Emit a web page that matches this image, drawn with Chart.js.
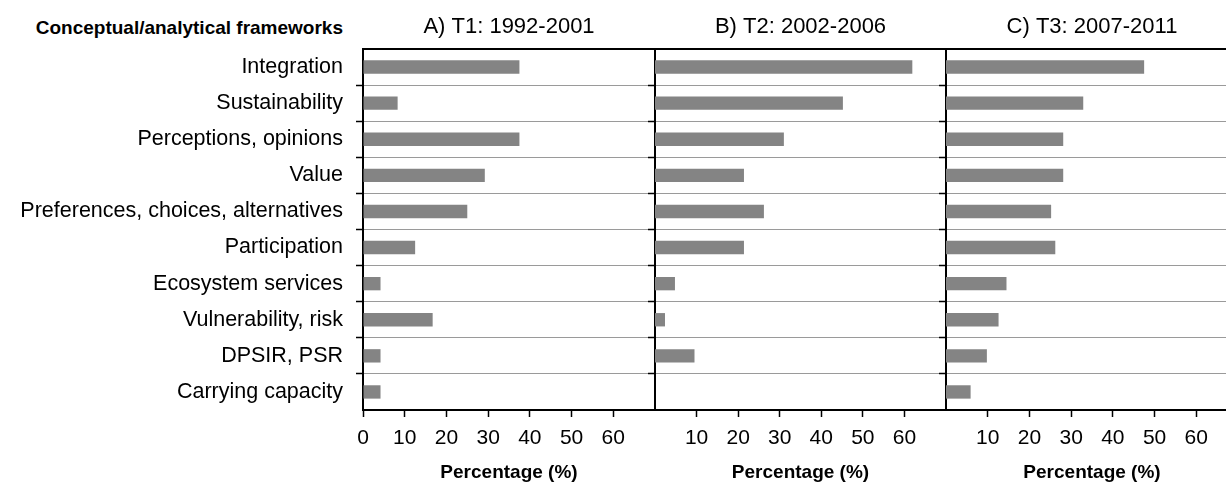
<!DOCTYPE html>
<html>
<head>
<meta charset="utf-8">
<script src="https://cdn.jsdelivr.net/npm/chart.js@4/dist/chart.umd.min.js"></script>
<style>
  html, body { margin: 0; padding: 0; background: #fff; overflow: hidden; }
  #wrap { position: relative; width: 1226px; height: 482px; overflow: hidden; }
  #wrap canvas { position: absolute; left: 0; top: 0; }
  #rowHead { position: absolute; right: 883px; top: 18px; font: bold 19px 'Liberation Sans', Arial, sans-serif; line-height: 20px; color: #000; white-space: nowrap; }
</style>
</head>
<body>
<div id="wrap">
  <div id="rowHead">Conceptual/analytical frameworks</div>
  <canvas id="panelA" width="1240" height="482"></canvas>
  <canvas id="panelB" width="1240" height="482"></canvas>
  <canvas id="panelC" width="1240" height="482"></canvas>
</div>
<script>
var categories = ['Integration', 'Sustainability', 'Perceptions, opinions', 'Value', 'Preferences, choices, alternatives', 'Participation', 'Ecosystem services', 'Vulnerability, risk', 'DPSIR, PSR', 'Carrying capacity'];
var panelTitles = ['A) T1: 1992-2001', 'B) T2: 2002-2006', 'C) T3: 2007-2011'];
var t1 = [37.5, 8.3, 37.5, 29.2, 25.0, 12.5, 4.2, 16.7, 4.2, 4.2];
var t2 = [61.9, 45.2, 31.0, 21.4, 26.2, 21.4, 4.8, 2.4, 9.5, 0];
var t3 = [47.5, 32.9, 28.1, 28.1, 25.2, 26.2, 14.5, 12.6, 9.8, 5.9];
var ticksFirst = [0, 10, 20, 30, 40, 50, 60];
var ticksOther = [10, 20, 30, 40, 50, 60];
var xMax = 70;
var xTitle = 'Percentage (%)';

var FONT = "'Liberation Sans', Arial, sans-serif";
Chart.defaults.font.family = FONT;
Chart.defaults.color = '#000';

function panel(id, title, values, xTicks, opt){
  return new Chart(document.getElementById(id), {
    type: 'bar',
    data: {
      labels: categories,
      datasets: [{ data: values, backgroundColor: '#848484', borderWidth: 0, barPercentage: 0.37, categoryPercentage: 1 }]
    },
    options: {
      responsive: false,
      animation: false,
      indexAxis: 'y',
      layout: { padding: { left: opt.padLeft, right: opt.padRight, top: 0, bottom: 0 } },
      plugins: {
        legend: { display: false },
        tooltip: { enabled: false },
        title: { display: true, text: title, fullSize: false, color: '#000', font: { size: 22, weight: 'normal' }, padding: { top: 13.8, bottom: 8.8 } }
      },
      scales: {
        y: {
          afterFit: function(s){ s.width = opt.yWidth; },
          grid: {
            offset: true,
            color: function(ctx){ return ctx.index === 0 ? '#000' : '#9a9a9a'; },
            lineWidth: function(ctx){ return ctx.index === 0 ? 2 : 1; },
            tickColor: function(ctx){ return (ctx.index === undefined || ctx.index === 0) ? 'rgba(0,0,0,0)' : '#000'; },
            tickLength: 7,
            tickWidth: 1.5
          },
          border: { color: '#000', width: 2 },
          ticks: { display: opt.showLabels, font: { size: 21.5 }, color: '#000', padding: 13 }
        },
        x: {
          min: 0, max: xMax,
          afterBuildTicks: function(s){ s.ticks = xTicks.map(function(v){ return { value: v }; }); },
          afterFit: function(s){ s.height = 72; },
          grid: { drawOnChartArea: false, tickLength: 7, tickColor: '#000', tickWidth: 1.5 },
          border: { color: '#000', width: 2 },
          ticks: { font: { size: 21 }, color: '#000', padding: 9, maxRotation: 0, autoSkip: false },
          title: { display: true, text: xTitle, font: { size: 19, weight: 'bold' }, color: '#000', padding: { top: 0, bottom: -2 } }
        }
      }
    }
  });
}

document.addEventListener('DOMContentLoaded', function(){
  panel('panelA', panelTitles[0], t1, ticksFirst, { padLeft: 0, padRight: 585, yWidth: 363, showLabels: true });
  panel('panelB', panelTitles[1], t2, ticksOther, { padLeft: 647, padRight: 294, yWidth: 8, showLabels: false });
  panel('panelC', panelTitles[2], t3, ticksOther, { padLeft: 938, padRight: 2, yWidth: 8, showLabels: false });
});
</script>
</body>
</html>
